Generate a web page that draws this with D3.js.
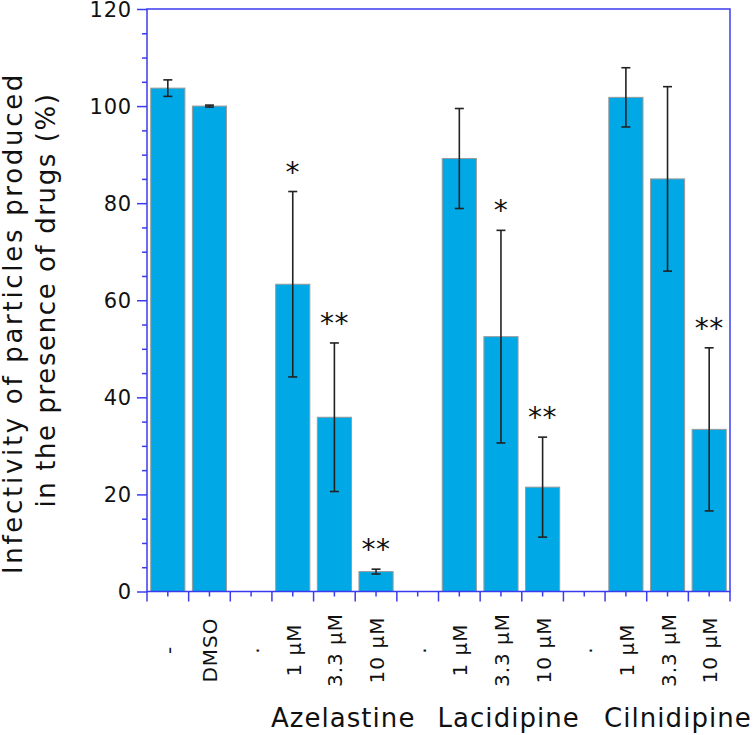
<!DOCTYPE html>
<html>
<head>
<meta charset="utf-8">
<script src="https://cdn.jsdelivr.net/npm/d3@7"></script>
<style>
html,body{margin:0;padding:0;background:#fff;}
svg{display:block;font-family:"DejaVu Sans",Verdana,sans-serif;}
</style>
</head>
<body>
<svg id="chart" width="753" height="735"></svg>
<script>
// ---- data ----
const categories = ["-", "DMSO", ".", "1 µM", "3.3 µM", "10 µM", ".", "1 µM", "3.3 µM", "10 µM", ".", "1 µM", "3.3 µM", "10 µM"];
const values     = [103.7, 100.0, null, 63.3, 35.9, 4.1, null, 89.2, 52.5, 21.5, null, 101.8, 85.0, 33.4];
const errors     = [1.7, 0.2, null, 19.1, 15.3, 0.5, null, 10.3, 21.9, 10.3, null, 6.1, 19.0, 16.8];
const signif     = ["", "", "", "*", "**", "**", "", "", "*", "**", "", "", "", "**"];
const groupNames = ["Azelastine", "Lacidipine", "Cilnidipine"];
const groupStart = [3, 7, 11];
const yTicks     = [0, 20, 40, 60, 80, 100, 120];
const yLabelLines = ["Infectivity of particles produced", "in the presence of drugs (%)"];

// ---- layout ----
const svg = d3.select("#chart");
const L = 147, R = 730, T = 9, B = 591.5;
const axisColor = "#3b3bf0";
const barColor = "#00a8e6";

const x = d3.scaleBand().domain(d3.range(categories.length)).range([L, R]).padding(0);
const y = d3.scaleLinear().domain([0, 120]).range([B, T]);
const bw = x.bandwidth();
const barW = bw * 0.82;

const idx = d3.range(categories.length).filter(i => values[i] != null);

// bars
svg.append("g").selectAll("rect").data(idx).join("rect")
  .attr("x", i => x(i) + (bw - barW) / 2)
  .attr("width", barW)
  .attr("y", i => y(values[i]))
  .attr("height", i => y(0) - y(values[i]))
  .attr("fill", barColor)
  .attr("stroke", "#9a9a9a")
  .attr("stroke-width", 1);

// error bars
const eg = svg.append("g").attr("stroke", "#222").attr("stroke-width", 1.6);
idx.forEach(i => {
  const cx = x(i) + bw / 2;
  const hi = y(values[i] + errors[i]), lo = y(values[i] - errors[i]);
  eg.append("line").attr("x1", cx).attr("x2", cx).attr("y1", hi).attr("y2", lo);
  eg.append("line").attr("x1", cx - 4.5).attr("x2", cx + 4.5).attr("y1", hi).attr("y2", hi);
  eg.append("line").attr("x1", cx - 4.5).attr("x2", cx + 4.5).attr("y1", lo).attr("y2", lo);
});

// significance marks
svg.append("g").selectAll("text").data(idx.filter(i => signif[i])).join("text")
  .attr("x", i => x(i) + bw / 2)
  .attr("y", i => y(values[i] + errors[i]) - 25 + 15)
  .attr("text-anchor", "middle")
  .attr("font-size", 28)
  .attr("letter-spacing", 0.5)
  .attr("fill", "#111")
  .text(i => signif[i]);

// y axis
const yAxis = d3.axisLeft(y).tickValues(d3.range(0, 121, 5)).tickSize(5).tickFormat("");
const gy = svg.append("g").attr("transform", `translate(${L},0)`).call(yAxis);
gy.selectAll(".tick line").attr("x2", d => d % 20 === 0 ? -10 : -5);
gy.selectAll("line,path").attr("stroke", axisColor).attr("stroke-width", 1.5);
gy.select(".domain").remove();
svg.append("g").selectAll("text").data(yTicks).join("text")
  .attr("x", L - 15).attr("y", d => y(d)).attr("dy", "0.36em")
  .attr("text-anchor", "end").attr("font-size", 21).attr("fill", "#111")
  .attr("letter-spacing", 0.8)
  .text(d => d);

// x ticks
const xb = d3.range(categories.length + 1).map(k => L + k * bw);
const gx = svg.append("g").attr("stroke", axisColor).attr("stroke-width", 1.5);
xb.forEach(px => gx.append("line").attr("x1", px).attr("x2", px).attr("y1", B).attr("y2", B + 10));
d3.range(categories.length).forEach(i => {
  const cx = x(i) + bw / 2;
  gx.append("line").attr("x1", cx).attr("x2", cx).attr("y1", B).attr("y2", B + 5);
});

// frame
svg.append("rect").attr("x", L).attr("y", T).attr("width", R - L).attr("height", B - T)
  .attr("fill", "none").attr("stroke", axisColor).attr("stroke-width", 1.5);

// category labels
svg.append("g").selectAll("text").data(d3.range(categories.length)).join("text")
  .attr("transform", i => `translate(${x(i) + bw / 2 + 8},650) rotate(-90)`)
  .attr("text-anchor", "middle").attr("font-size", 20).attr("fill", "#111")
  .attr("letter-spacing", 1)
  .text(i => categories[i]);

// group labels
svg.append("g").selectAll("text").data(groupNames).join("text")
  .attr("x", (d, k) => x(groupStart[k]) - 1)
  .attr("y", 727)
  .attr("font-size", 26).attr("fill", "#111")
  .attr("letter-spacing", 1.05)
  .text(d => d);

// y label (two lines)
svg.append("text").attr("transform", "translate(22,323) rotate(-90)")
  .attr("text-anchor", "middle").attr("font-size", 26).attr("fill", "#111")
  .attr("letter-spacing", 2.7)
  .text(yLabelLines[0]);
svg.append("text").attr("transform", "translate(55,300) rotate(-90)")
  .attr("text-anchor", "middle").attr("font-size", 26).attr("fill", "#111")
  .attr("letter-spacing", 1.6)
  .text(yLabelLines[1]);
</script>
</body>
</html>
